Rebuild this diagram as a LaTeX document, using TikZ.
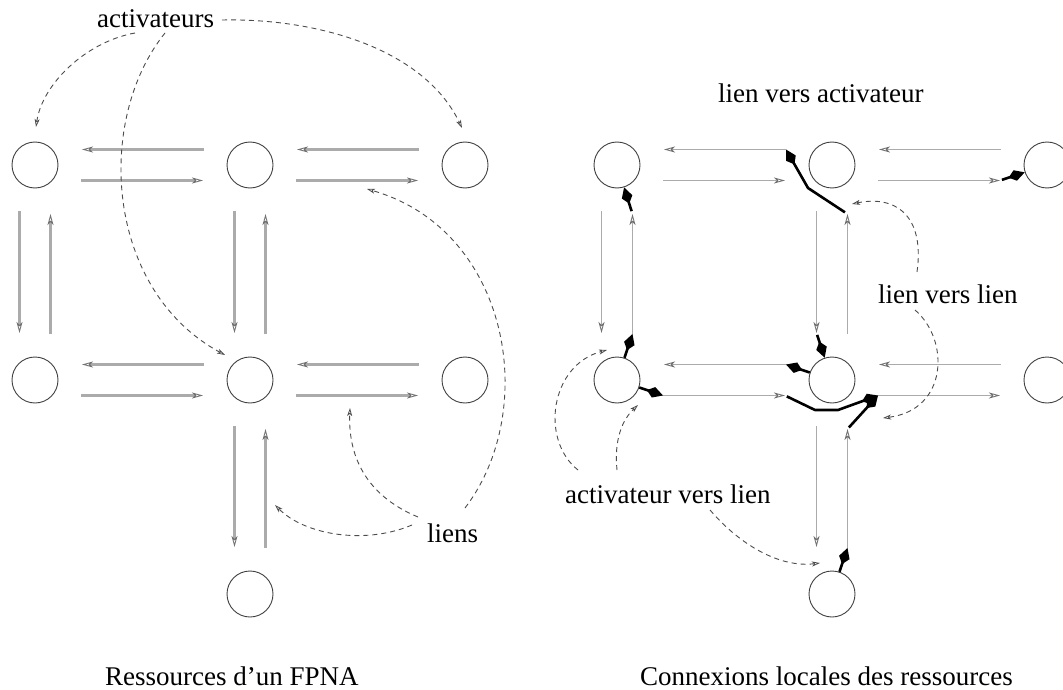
\documentclass[tikz,border=0pt]{standalone}
\usepackage{fontspec}
\setmainfont{Liberation Serif}
\usetikzlibrary{arrows.meta,calc}

% pair of opposite links between two horizontally adjacent resources
\newcommand\hlinks[3]{%
  \coordinate (#2#3-ls) at ([shift={(-46,-15.5)}]#3.center);
  \coordinate (#2#3-le) at ([shift={(47,-15.5)}]#2.center);
  \coordinate (#2#3-rs) at ([shift={(46,15.5)}]#2.center);
  \coordinate (#2#3-re) at ([shift={(-47,15.5)}]#3.center);
  \draw[#1] (#2#3-ls) -- (#2#3-le);
  \draw[#1] (#2#3-rs) -- (#2#3-re);
}
% pair of opposite links between two vertically adjacent resources
\newcommand\vlinks[3]{%
  \coordinate (#2#3-ds) at ([shift={(-15.5,46)}]#2.center);
  \coordinate (#2#3-de) at ([shift={(-15.5,-47)}]#3.center);
  \coordinate (#2#3-us) at ([shift={(15.5,-46)}]#3.center);
  \coordinate (#2#3-ue) at ([shift={(15.5,49)}]#2.center);
  \draw[#1] (#2#3-ds) -- (#2#3-de);
  \draw[#1] (#2#3-us) -- (#2#3-ue);
}

\begin{document}
\begin{tikzpicture}[x=1pt,y=-1pt,
  every node/.style={font=\fontsize{27}{30}\selectfont, inner sep=0pt},
  res/.style={circle,draw=black!75,line width=0.9pt,minimum size=46pt},
  link/.style={draw=black!33,line width=2.2pt,
    -{Stealth[open,length=11pt,width=6pt,inset=3pt,line width=0.9pt,color=black!55]}},
  linkR/.style={link,line width=1.6pt},
  conn/.style={draw=black,line width=2.6pt,line join=round,
    -{Kite[length=17pt,width=11pt,inset=7pt]}},
  note/.style={draw=black!70,line width=0.9pt,dash pattern=on 5pt off 4pt,
    -{Stealth[open,length=8pt,width=5pt,inset=2pt,line width=0.8pt]}},
  lbl/.style={anchor=base west}]

\useasboundingbox (0,0) rectangle (1063,690);

% ---------- resources of an FPNA ----------
\node[res] (p11) at (35,165) {};
\node[res] (p12) at (250,165) {};
\node[res] (p13) at (465,165) {};
\node[res] (p21) at (35,380) {};
\node[res] (p22) at (250,380) {};
\node[res] (p23) at (465,380) {};
\node[res] (p32) at (250,594) {};

\hlinks{link}{p11}{p12}
\hlinks{link}{p12}{p13}
\hlinks{link}{p21}{p22}
\hlinks{link}{p22}{p23}
\vlinks{link}{p11}{p21}
\vlinks{link}{p12}{p22}
\vlinks{link}{p22}{p32}

\node[lbl] (act) at (97,28) {activateurs};
\node[lbl] (lns) at (427,542) {liens};
\node[lbl] (capL) at (105,685) {Ressources d’un FPNA};

\coordinate (a1s) at (135,33);  \coordinate (a1e) at (36,127);
\coordinate (a2s) at (165,33);  \coordinate (a2e) at (225,355);
\coordinate (a3s) at (222,20);  \coordinate (a3e) at (462,128);
\draw[note] (a1s) .. controls (85,42) and (42,85) .. (a1e);
\draw[note] (a2s) .. controls (95,120) and (105,290) .. (a2e);
\draw[note] (a3s) .. controls (320,18) and (425,50) .. (a3e);

\coordinate (b1s) at (412,525); \coordinate (b1e) at (275,505);
\coordinate (b2s) at (418,517); \coordinate (b2e) at (350,408);
\coordinate (b3s) at (465,508); \coordinate (b3e) at (367,189);
\draw[note] (b1s) .. controls (365,545) and (305,535) .. (b1e);
\draw[note] (b2s) .. controls (365,495) and (348,455) .. (b2e);
\draw[note] (b3s) .. controls (540,410) and (510,230) .. (b3e);

% ---------- local connections of the resources ----------
\node[res] (q11) at (617,165) {};
\node[res] (q12) at (832,165) {};
\node[res] (q13) at (1047,165) {};
\node[res] (q21) at (617,380) {};
\node[res] (q22) at (832,380) {};
\node[res] (q23) at (1047,380) {};
\node[res] (q32) at (832,594) {};

\hlinks{linkR}{q11}{q12}
\hlinks{linkR}{q12}{q13}
\hlinks{linkR}{q21}{q22}
\hlinks{linkR}{q22}{q23}
\vlinks{linkR}{q11}{q21}
\vlinks{linkR}{q12}{q22}
\vlinks{linkR}{q22}{q32}

% link -> activator
\draw[conn,shorten <=3pt] (q11q21-ue) -- (q11);
\draw[conn,shorten <=2pt] (q12q13-re) -- (q13);
\draw[conn,shorten <=2pt] (q12q22-de) -- (q22);
% activator -> link
\draw[conn] (q21) -- (q11q21-us);
\draw[conn] (q21) -- (q21q22-rs);
\draw[conn] (q22) -- (q21q22-ls);
\draw[conn] (q32) -- (q22q32-us);
% link -> link
\coordinate (k1) at ($(q12.center)+(-24,23)$);
\coordinate (k2) at ($(q22.center)+(-17,30)$);
\coordinate (k3) at ($(q22.center)+(6,30)$);
\draw[conn,shorten <=3pt] (q12q22-ue) -- (k1) -- (q11q12-ls);
\draw[conn,shorten <=2pt] (q21q22-re) -- (k2) -- (k3) -- (q22q23-rs);
\draw[conn,shorten <=2pt] (q22q32-ue) -- (q22q23-rs);

\node[lbl] (lva) at (718,103) {lien vers activateur};
\node[lbl] (lvl) at (878,303) {lien vers lien};
\node[lbl] (avl) at (565,503) {activateur vers lien};
\node[anchor=base east] (capR) at (1013,685) {Connexions locales des ressources};

\coordinate (c1s) at (917,272); \coordinate (c1e) at (852,204);
\coordinate (c2s) at (915,310); \coordinate (c2e) at (883,418);
\draw[note] (c1s) .. controls (925,215) and (895,195) .. (c1e);
\draw[note] (c2s) .. controls (950,340) and (948,410) .. (c2e);

\coordinate (d1s) at (578,470); \coordinate (d1e) at (607,350);
\coordinate (d2s) at (617,470); \coordinate (d2e) at (638,405);
\coordinate (d3s) at (710,510); \coordinate (d3e) at (820,563);
\draw[note] (d1s) .. controls (540,440) and (550,365) .. (d1e);
\draw[note] (d2s) .. controls (614,440) and (622,420) .. (d2e);
\draw[note] (d3s) .. controls (740,545) and (780,568) .. (d3e);

\end{tikzpicture}
\end{document}
